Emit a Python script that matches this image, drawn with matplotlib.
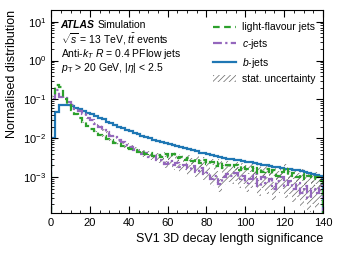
import numpy as np
import matplotlib
matplotlib.use("Agg")
import matplotlib.pyplot as plt
from matplotlib.patches import Patch
from matplotlib.lines import Line2D
from matplotlib.ticker import MultipleLocator, LogLocator, NullFormatter

plt.rcParams["font.family"] = ["Liberation Sans", "DejaVu Sans"]
plt.rcParams["mathtext.fontset"] = "custom"
plt.rcParams["mathtext.rm"] = "Liberation Sans"
plt.rcParams["mathtext.it"] = "Liberation Sans:italic"
plt.rcParams["mathtext.bf"] = "Liberation Sans:bold"
plt.rcParams["hatch.linewidth"] = 0.5
plt.rcParams["hatch.color"] = "#666666"

# bin edges: 0 -> 140 in steps of 2
edges = np.arange(0, 141, 2)

b_jets = [0.010, 0.047, 0.073, 0.074, 0.071, 0.067, 0.061, 0.056, 0.051, 0.046,
          0.042, 0.038, 0.034, 0.031, 0.027, 0.025, 0.022, 0.020, 0.018, 0.0165,
          0.0150, 0.0138, 0.0127, 0.0117, 0.0108, 0.0100, 0.0093, 0.0087, 0.0081, 0.0076,
          0.0071, 0.0067, 0.0063, 0.0059, 0.0055, 0.0052, 0.0049, 0.0046, 0.0043, 0.0041,
          0.0039, 0.0037, 0.0035, 0.0033, 0.0031, 0.0030, 0.0029, 0.0028, 0.0027, 0.0026,
          0.0025, 0.0024, 0.0023, 0.0022, 0.0021, 0.0020, 0.0019, 0.00185, 0.0018, 0.0017,
          0.00165, 0.0016, 0.00155, 0.0015, 0.00142, 0.00135, 0.0013, 0.00122, 0.00115, 0.0011]

light_jets = [0.12, 0.23, 0.21, 0.10, 0.075, 0.055, 0.042, 0.034, 0.026, 0.021,
              0.0175, 0.015, 0.0125, 0.0115, 0.0098, 0.0090, 0.0078, 0.0072, 0.0062, 0.0058,
              0.0052, 0.0049, 0.0044, 0.0046, 0.0040, 0.0041, 0.0036, 0.0038, 0.0033, 0.0039,
              0.0033, 0.0040, 0.0031, 0.0034, 0.0028, 0.0032, 0.0026, 0.0029, 0.0023, 0.0027,
              0.0022, 0.0025, 0.0019, 0.0024, 0.0017, 0.0021, 0.0018, 0.0020, 0.0015, 0.0019,
              0.0016, 0.0018, 0.0013, 0.0017, 0.0014, 0.0016, 0.0012, 0.0015, 0.0011, 0.0014,
              0.0017, 0.0011, 0.0013, 0.0010, 0.0012, 0.0009, 0.0011, 0.0009, 0.0010, 0.0008]

c_jets = [0.10, 0.17, 0.115, 0.11, 0.085, 0.070, 0.058, 0.050, 0.042, 0.034,
          0.029, 0.024, 0.020, 0.0165, 0.0145, 0.0118, 0.0105, 0.0088, 0.0079, 0.0066,
          0.0060, 0.0051, 0.0047, 0.0040, 0.0042, 0.0034, 0.0035, 0.0028, 0.0027, 0.0022,
          0.0026, 0.0020, 0.0023, 0.0018, 0.0021, 0.0016, 0.0019, 0.0014, 0.0017, 0.0012,
          0.0013, 0.0009, 0.0011, 0.00065, 0.0010, 0.0012, 0.0011, 0.0013, 0.0009, 0.0011,
          0.0007, 0.0009, 0.0012, 0.0006, 0.0010, 0.0007, 0.0009, 0.0005, 0.0008, 0.0010,
          0.0006, 0.0008, 0.0005, 0.0007, 0.0004, 0.0006, 0.0003, 0.0005, 0.0004, 0.0006]

# relative statistical uncertainty per bin
light_rel_err = [0.02, 0.02, 0.02, 0.02, 0.02, 0.03, 0.03, 0.03, 0.04, 0.04,
                 0.05, 0.05, 0.06, 0.06, 0.07, 0.07, 0.08, 0.08, 0.09, 0.09,
                 0.10, 0.10, 0.11, 0.11, 0.12, 0.12, 0.13, 0.13, 0.14, 0.14,
                 0.15, 0.15, 0.16, 0.16, 0.17, 0.17, 0.18, 0.18, 0.19, 0.19,
                 0.20, 0.20, 0.21, 0.21, 0.22, 0.22, 0.23, 0.23, 0.24, 0.24,
                 0.25, 0.25, 0.26, 0.26, 0.27, 0.27, 0.28, 0.28, 0.29, 0.29,
                 0.30, 0.30, 0.31, 0.31, 0.32, 0.32, 0.33, 0.33, 0.34, 0.35]

c_rel_err = [0.02, 0.02, 0.03, 0.03, 0.03, 0.04, 0.04, 0.05, 0.05, 0.06,
             0.06, 0.07, 0.07, 0.08, 0.09, 0.09, 0.10, 0.11, 0.11, 0.12,
             0.13, 0.14, 0.14, 0.15, 0.16, 0.17, 0.18, 0.19, 0.20, 0.21,
             0.22, 0.23, 0.24, 0.25, 0.26, 0.27, 0.28, 0.29, 0.30, 0.31,
             0.32, 0.33, 0.34, 0.35, 0.36, 0.37, 0.38, 0.39, 0.40, 0.41,
             0.42, 0.43, 0.44, 0.45, 0.46, 0.47, 0.48, 0.49, 0.50, 0.51,
             0.52, 0.53, 0.54, 0.55, 0.56, 0.57, 0.58, 0.59, 0.60, 0.60]

COL_LIGHT = "#2ca02c"
COL_C = "#9467bd"
COL_B = "#1f77b4"
DASH_LIGHT = (0, (3, 2))
DASH_C = (0, (4, 1.5, 1, 1.5))
HATCH = "//////"

fig = plt.figure(figsize=(3.41, 2.56), dpi=100)
ax = fig.add_axes([0.150, 0.168, 0.797, 0.793])


def band(vals, rel):
    v = np.array(vals)
    r = np.array(rel)
    ax.stairs(v * (1 + r), edges, baseline=v * (1 - r), fill=True,
              facecolor="none", edgecolor="#666666", hatch=HATCH, linewidth=0)


band(light_jets, light_rel_err)
band(c_jets, c_rel_err)
ax.stairs(b_jets, edges, color=COL_B, linewidth=1.6, baseline=1e-5)
ax.stairs(c_jets, edges, color=COL_C, linewidth=1.6, linestyle=DASH_C)
ax.stairs(light_jets, edges, color=COL_LIGHT, linewidth=1.6, linestyle=DASH_LIGHT)

ax.set_yscale("log")
ax.set_xlim(0, 140)
ax.set_ylim(1.2e-4, 20)
ax.xaxis.set_major_locator(MultipleLocator(20))
ax.xaxis.set_minor_locator(MultipleLocator(5))
ax.yaxis.set_major_locator(LogLocator(base=10, numticks=10))
ax.yaxis.set_minor_locator(LogLocator(base=10, subs=np.arange(2, 10), numticks=20))
ax.yaxis.set_minor_formatter(NullFormatter())
ax.tick_params(which="both", direction="in", top=True, right=True, labelsize=8)
ax.tick_params(which="major", length=5)
ax.tick_params(which="minor", length=2.5)

ax.set_xlabel("SV1 3D decay length significance", fontsize=9, loc="right")
ax.set_ylabel("Normalised distribution", fontsize=9, loc="top")

fs = 7.5
x0 = 0.035
t = ax.text(x0, 0.925, "ATLAS", transform=ax.transAxes, fontsize=fs,
            va="center", fontweight="bold", fontstyle="italic")
fig.canvas.draw()
bb = t.get_window_extent().transformed(ax.transAxes.inverted())
ax.text(bb.x1 + 0.012, 0.925, "Simulation", transform=ax.transAxes,
        fontsize=fs, va="center")
ax.text(x0, 0.855, r"$\sqrt{s}$ = 13 TeV, $t\bar{t}$ events", transform=ax.transAxes,
        fontsize=fs, va="center")
ax.text(x0, 0.785, r"Anti-$k_{T}$ $R$ = 0.4 PFlow jets", transform=ax.transAxes,
        fontsize=fs, va="center")
ax.text(x0, 0.715, r"$p_{\rm T}$ > 20 GeV, $|\eta|$ < 2.5", transform=ax.transAxes,
        fontsize=fs, va="center")

handles = [
    Line2D([], [], color=COL_LIGHT, linewidth=1.6, linestyle=DASH_LIGHT),
    Line2D([], [], color=COL_C, linewidth=1.6, linestyle=DASH_C),
    Line2D([], [], color=COL_B, linewidth=1.6),
    Patch(facecolor="none", edgecolor="#666666", hatch=HATCH, linewidth=0),
]
labels = ["light-flavour jets", r"$c$-jets", r"$b$-jets", "stat. uncertainty"]
ax.legend(handles, labels, loc="upper right", frameon=False, fontsize=fs,
          handlelength=2.2, handletextpad=0.6, labelspacing=0.45,
          bbox_to_anchor=(1.0, 0.975), borderaxespad=0.3)

fig.savefig("out.png", dpi=100)
